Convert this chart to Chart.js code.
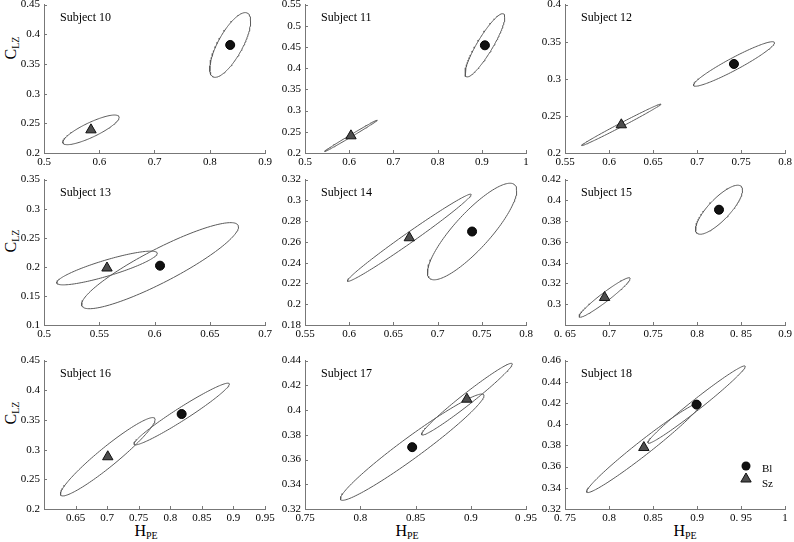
<!DOCTYPE html>
<html>
<head>
<meta charset="utf-8">
<script src="https://cdn.jsdelivr.net/npm/chart.js@4.4.1/dist/chart.umd.min.js"></script>
<style>
  body { margin: 0; background: #fff; }
  #wrap { position: relative; width: 794px; height: 542px; overflow: hidden; font-family: "Liberation Serif", serif; }
  #wrap canvas { position: absolute; }
  .lab { position: absolute; font-size: 16px; white-space: nowrap; color: #000; line-height: 1; }
  .lab sub { font-size: 10px; vertical-align: -3px; }
  .ylab { transform: translate(-50%, -50%) rotate(-90deg); }
  .xlab { transform: translate(-50%, -50%); }
</style>
</head>
<body>
<div id="wrap">
  <div class="lab ylab" style="left:12px; top:48px;">C<sub>LZ</sub></div>
  <div class="lab ylab" style="left:12px; top:241px;">C<sub>LZ</sub></div>
  <div class="lab ylab" style="left:12px; top:413px;">C<sub>LZ</sub></div>
  <div class="lab xlab" style="left:146px; top:532px;">H<sub>PE</sub></div>
  <div class="lab xlab" style="left:407px; top:532px;">H<sub>PE</sub></div>
  <div class="lab xlab" style="left:685px; top:532px;">H<sub>PE</sub></div>
</div>
<script>
// Panels: subjects 10..18, read row by row
const subjects = [10, 11, 12, 13, 14, 15, 16, 17, 18];

// Group means (H_PE, C_LZ)
const blX = [0.837, 0.907, 0.742, 0.605, 0.739, 0.825, 0.818, 0.847, 0.8995];
const blY = [0.382, 0.454, 0.320, 0.202, 0.270, 0.391, 0.360, 0.370, 0.4185];
const szX = [0.585, 0.604, 0.614, 0.557, 0.668, 0.695, 0.701, 0.8965, 0.8396];
const szY = [0.239, 0.2405, 0.238, 0.198, 0.264, 0.3065, 0.288, 0.4088, 0.378];

// Ellipse spread: half extent in x, half extent in y, correlation
const blHx = [0.037, 0.045, 0.046, 0.071, 0.0505, 0.0267, 0.0755, 0.065, 0.0553];
const blHy = [0.0545, 0.0745, 0.030, 0.074, 0.0465, 0.0236, 0.052, 0.043, 0.0365];
const blRho = [0.74, 0.89, 0.95, 0.90, 0.85, 0.80, 0.97, 0.97, 0.985];
const szHx = [0.051, 0.0595, 0.045, 0.0455, 0.070, 0.029, 0.075, 0.041, 0.065];
const szHy = [0.025, 0.037, 0.028, 0.029, 0.042, 0.019, 0.066, 0.029, 0.0425];
const szRho = [0.84, 0.997, 0.995, 0.87, 0.99, 0.96, 0.95, 0.98, 0.98];

// Axis ticks
const xTicks = [
  [0.5, 0.6, 0.7, 0.8, 0.9],
  [0.5, 0.6, 0.7, 0.8, 0.9, 1],
  [0.55, 0.6, 0.65, 0.7, 0.75, 0.8],
  [0.5, 0.55, 0.6, 0.65, 0.7],
  [0.55, 0.6, 0.65, 0.7, 0.75, 0.8],
  [0.65, 0.7, 0.75, 0.8, 0.85, 0.9],
  [0.6, 0.65, 0.7, 0.75, 0.8, 0.85, 0.9, 0.95],
  [0.75, 0.8, 0.85, 0.9, 0.95],
  [0.75, 0.8, 0.85, 0.9, 0.95, 1]
];
const xTickLabels = [
  ['0.5', '0.6', '0.7', '0.8', '0.9'],
  ['0.5', '0.6', '0.7', '0.8', '0.9', '1'],
  ['0.55', '0.6', '0.65', '0.7', '0.75', '0.8'],
  ['0.5', '0.55', '0.6', '0.65', '0.7'],
  ['0.55', '0.6', '0.65', '0.7', '0.75', '0.8'],
  ['0. 65', '0.7', '0.75', '0.8', '0. 85', '0.9'],
  ['', '0.65', '0.7', '0.75', '0.8', '0.85', '0.9', '0.95'],
  ['0.75', '0.8', '0.85', '0.9', '0 .95'],
  ['0. 75', '0.8', '0.85', '0.9', '0. 95', '1']
];
const yTicks = [
  [0.2, 0.25, 0.3, 0.35, 0.4, 0.45],
  [0.2, 0.25, 0.3, 0.35, 0.4, 0.45, 0.5, 0.55],
  [0.2, 0.25, 0.3, 0.35, 0.4],
  [0.1, 0.15, 0.2, 0.25, 0.3, 0.35],
  [0.18, 0.2, 0.22, 0.24, 0.26, 0.28, 0.3, 0.32],
  [0.28, 0.3, 0.32, 0.34, 0.36, 0.38, 0.4, 0.42],
  [0.2, 0.25, 0.3, 0.35, 0.4, 0.45],
  [0.32, 0.34, 0.36, 0.38, 0.4, 0.42, 0.44],
  [0.32, 0.34, 0.36, 0.38, 0.4, 0.42, 0.44, 0.46]
];
const yTickLabels = [
  ['0.2', '0.25', '0.3', '0.35', '0.4', '0.45'],
  ['0.2', '0.25', '0.3', '0.35', '0.4', '0.45', '0.5', '0.55'],
  ['0.2', '0.25', '0.3', '0.35', '0.4'],
  ['0.1', '0.15', '0.2', '0.25', '0.3', '0.35'],
  ['0.18', '0.2', '0.22', '0.24', '0.26', '0.28', '0.3', '0.32'],
  ['', '0.3', '0.32', '0.34', '0.36', '0.38', '0.4', '0.42'],
  ['0.2', '0.25', '0.3', '0.35', '0.4', '0.45'],
  ['0.32', '0.34', '0.36', '0.38', '0.4', '0.42', '0.44'],
  ['0.32', '0.34', '0.36', '0.38', '0.4', '0.42', '0.44', '0.46']
];

// Plot area boxes on the page
const colLeft = [44, 305, 565], colRight = [265, 526, 785];
const rowTop = [4, 179, 360], rowBottom = [153, 325, 509];
const padL = 44, padR = 14, padT = 10, padB = 22;

const axisColor = '#777';
const lineColor = '#5a5a5a';

Chart.defaults.font.family = '"Liberation Serif", serif';
Chart.defaults.font.size = 11;
Chart.defaults.color = '#000';

function ellipse(cx, cy, hx, hy, rho) {
    const pts = [];
    const s = Math.sqrt(1 - rho * rho);
    for (let k = 0; k <= 144; k++) {
        const t = k / 144 * 2 * Math.PI;
        pts.push({ x: cx + hx * Math.cos(t), y: cy + hy * (rho * Math.cos(t) + s * Math.sin(t)) });
    }
    return pts;
}

// inward tick marks, panel title and the legend of the last panel
const panelDecor = {
    id: 'panelDecor',
    afterDraw(chart, args, opts) {
        const { ctx, chartArea: a, scales } = chart;
        ctx.save();
        ctx.strokeStyle = axisColor;
        ctx.lineWidth = 1;
        ctx.beginPath();
        scales.x.ticks.forEach(t => {
            const px = Math.round(scales.x.getPixelForValue(t.value)) + 0.5;
            ctx.moveTo(px, a.bottom);
            ctx.lineTo(px, a.bottom - 3);
        });
        scales.y.ticks.forEach(t => {
            const py = Math.round(scales.y.getPixelForValue(t.value)) + 0.5;
            ctx.moveTo(a.left, py);
            ctx.lineTo(a.left + 3, py);
        });
        ctx.stroke();

        ctx.fillStyle = '#000';
        ctx.font = '12px "Liberation Serif"';
        ctx.textBaseline = 'alphabetic';
        ctx.fillText(opts.title, a.left + 16, a.top + 16);

        if (opts.legend) {
            const lx = a.right - 39;
            ctx.beginPath();
            ctx.arc(lx, a.bottom - 43, 4.5, 0, Math.PI * 2);
            ctx.fillStyle = '#111';
            ctx.fill();
            const r = 6, ty = a.bottom - 30;
            ctx.beginPath();
            ctx.moveTo(lx, ty - r);
            ctx.lineTo(lx + r * 0.866, ty + r / 2);
            ctx.lineTo(lx - r * 0.866, ty + r / 2);
            ctx.closePath();
            ctx.fillStyle = '#4d4d4d';
            ctx.fill();
            ctx.strokeStyle = '#111';
            ctx.stroke();
            ctx.fillStyle = '#000';
            ctx.font = '11px "Liberation Serif"';
            ctx.fillText('Bl', a.right - 23, a.bottom - 37);
            ctx.fillText('Sz', a.right - 23, a.bottom - 22);
        }
        ctx.restore();
    }
};

const wrap = document.getElementById('wrap');

subjects.forEach((subj, i) => {
    const col = i % 3, row = Math.floor(i / 3);
    const left = colLeft[col] - padL, top = rowTop[row] - padT;
    const w = colRight[col] - colLeft[col] + padL + padR;
    const h = rowBottom[row] - rowTop[row] + padT + padB;

    const canvas = document.createElement('canvas');
    canvas.width = w;
    canvas.height = h;
    canvas.style.left = left + 'px';
    canvas.style.top = top + 'px';
    canvas.style.width = w + 'px';
    canvas.style.height = h + 'px';
    wrap.appendChild(canvas);

    const xt = xTicks[i], yt = yTicks[i];

    new Chart(canvas, {
        type: 'scatter',
        data: {
            datasets: [
                {
                    label: 'Bl',
                    data: [{ x: blX[i], y: blY[i] }],
                    pointStyle: 'circle',
                    pointRadius: 4.5,
                    backgroundColor: '#111',
                    borderColor: '#000',
                    borderWidth: 1
                },
                {
                    label: 'Sz',
                    data: [{ x: szX[i], y: szY[i] }],
                    pointStyle: 'triangle',
                    pointRadius: 6,
                    backgroundColor: '#4d4d4d',
                    borderColor: '#111',
                    borderWidth: 1
                },
                {
                    label: 'Bl ellipse',
                    data: ellipse(blX[i], blY[i], blHx[i], blHy[i], blRho[i]),
                    showLine: true,
                    pointRadius: 0,
                    borderColor: lineColor,
                    borderWidth: 1,
                    tension: 0
                },
                {
                    label: 'Sz ellipse',
                    data: ellipse(szX[i], szY[i], szHx[i], szHy[i], szRho[i]),
                    showLine: true,
                    pointRadius: 0,
                    borderColor: lineColor,
                    borderWidth: 1,
                    tension: 0
                }
            ]
        },
        options: {
            responsive: false,
            animation: false,
            events: [],
            devicePixelRatio: 1,
            layout: { padding: { left: 0, right: padR, top: padT, bottom: 0 } },
            plugins: {
                legend: { display: false },
                tooltip: { enabled: false },
                panelDecor: { title: 'Subject ' + subj, legend: i === 8 }
            },
            scales: {
                x: {
                    type: 'linear',
                    min: xt[0],
                    max: xt[xt.length - 1],
                    grid: { display: false, drawTicks: false },
                    border: { display: true, color: axisColor, width: 1 },
                    afterBuildTicks: scale => { scale.ticks = xt.map(v => ({ value: v })); },
                    afterFit: scale => { scale.height = padB; },
                    ticks: {
                        padding: 3,
                        maxRotation: 0,
                        autoSkip: false,
                        callback: (v, idx) => xTickLabels[i][idx]
                    }
                },
                y: {
                    type: 'linear',
                    min: yt[0],
                    max: yt[yt.length - 1],
                    grid: { display: false, drawTicks: false },
                    border: { display: true, color: axisColor, width: 1 },
                    afterBuildTicks: scale => { scale.ticks = yt.map(v => ({ value: v })); },
                    afterFit: scale => { scale.width = padL; },
                    ticks: {
                        padding: 4,
                        autoSkip: false,
                        callback: (v, idx) => yTickLabels[i][idx]
                    }
                }
            }
        },
        plugins: [panelDecor]
    });
});
</script>
</body>
</html>
